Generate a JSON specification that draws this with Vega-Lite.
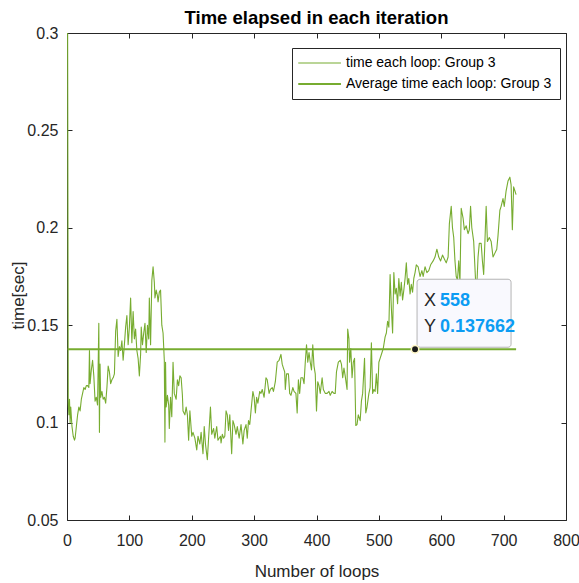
{
  "$schema": "https://vega.github.io/schema/vega-lite/v6.json",
  "width": 499,
  "height": 487,
  "autosize": {"type": "none"},
  "padding": {"left": 67, "top": 33, "right": 13, "bottom": 63},
  "background": "white",
  "config": {"font": "Liberation Sans", "view": {"stroke": "#262626", "strokeWidth": 1}},
  "title": {"text": "Time elapsed in each iteration", "fontSize": 18.5, "fontWeight": "bold", "color": "#000000", "anchor": "middle", "offset": 7, "dy": 9},
  "datasets": {
    "loops": [
      {"loop": 1, "time": 0.300}, {"loop": 2, "time": 0.110}, {"loop": 3, "time": 0.104}, {"loop": 4, "time": 0.112}, {"loop": 5, "time": 0.100},
      {"loop": 6, "time": 0.108}, {"loop": 8, "time": 0.098}, {"loop": 10, "time": 0.093}, {"loop": 12, "time": 0.091}, {"loop": 13, "time": 0.092},
      {"loop": 15, "time": 0.098}, {"loop": 17, "time": 0.104}, {"loop": 19, "time": 0.108}, {"loop": 21, "time": 0.106}, {"loop": 23, "time": 0.112},
      {"loop": 25, "time": 0.115}, {"loop": 27, "time": 0.118}, {"loop": 29, "time": 0.117}, {"loop": 31, "time": 0.119}, {"loop": 33, "time": 0.119},
      {"loop": 35, "time": 0.118}, {"loop": 36, "time": 0.137}, {"loop": 37, "time": 0.120}, {"loop": 39, "time": 0.127}, {"loop": 41, "time": 0.132},
      {"loop": 43, "time": 0.124}, {"loop": 45, "time": 0.111}, {"loop": 47, "time": 0.113}, {"loop": 49, "time": 0.109}, {"loop": 51, "time": 0.151},
      {"loop": 52, "time": 0.095}, {"loop": 53, "time": 0.130}, {"loop": 54, "time": 0.113}, {"loop": 56, "time": 0.116}, {"loop": 58, "time": 0.112},
      {"loop": 60, "time": 0.113}, {"loop": 62, "time": 0.110}, {"loop": 64, "time": 0.118}, {"loop": 66, "time": 0.129}, {"loop": 68, "time": 0.126},
      {"loop": 70, "time": 0.120}, {"loop": 72, "time": 0.122}, {"loop": 74, "time": 0.123}, {"loop": 76, "time": 0.125}, {"loop": 78, "time": 0.147},
      {"loop": 80, "time": 0.153}, {"loop": 82, "time": 0.134}, {"loop": 84, "time": 0.139}, {"loop": 86, "time": 0.137}, {"loop": 88, "time": 0.142},
      {"loop": 90, "time": 0.132}, {"loop": 92, "time": 0.140}, {"loop": 94, "time": 0.149}, {"loop": 96, "time": 0.155}, {"loop": 98, "time": 0.140},
      {"loop": 100, "time": 0.149}, {"loop": 102, "time": 0.164}, {"loop": 104, "time": 0.141}, {"loop": 106, "time": 0.157}, {"loop": 108, "time": 0.143},
      {"loop": 110, "time": 0.148}, {"loop": 112, "time": 0.137}, {"loop": 114, "time": 0.133}, {"loop": 116, "time": 0.124}, {"loop": 118, "time": 0.135},
      {"loop": 119, "time": 0.149}, {"loop": 121, "time": 0.140}, {"loop": 123, "time": 0.146}, {"loop": 125, "time": 0.151}, {"loop": 127, "time": 0.136},
      {"loop": 129, "time": 0.150}, {"loop": 131, "time": 0.143}, {"loop": 132, "time": 0.164}, {"loop": 134, "time": 0.140}, {"loop": 136, "time": 0.173},
      {"loop": 138, "time": 0.180}, {"loop": 140, "time": 0.172}, {"loop": 141, "time": 0.164}, {"loop": 143, "time": 0.168}, {"loop": 145, "time": 0.165},
      {"loop": 146, "time": 0.162}, {"loop": 148, "time": 0.167}, {"loop": 150, "time": 0.168}, {"loop": 152, "time": 0.150}, {"loop": 154, "time": 0.146},
      {"loop": 156, "time": 0.132}, {"loop": 157, "time": 0.090}, {"loop": 158, "time": 0.131}, {"loop": 159, "time": 0.108}, {"loop": 161, "time": 0.114},
      {"loop": 163, "time": 0.109}, {"loop": 164, "time": 0.097}, {"loop": 166, "time": 0.113}, {"loop": 168, "time": 0.103}, {"loop": 170, "time": 0.131},
      {"loop": 172, "time": 0.115}, {"loop": 175, "time": 0.112}, {"loop": 177, "time": 0.122}, {"loop": 179, "time": 0.119}, {"loop": 181, "time": 0.124},
      {"loop": 183, "time": 0.123}, {"loop": 185, "time": 0.114}, {"loop": 186, "time": 0.106}, {"loop": 189, "time": 0.104}, {"loop": 191, "time": 0.108},
      {"loop": 193, "time": 0.104}, {"loop": 195, "time": 0.091}, {"loop": 197, "time": 0.106}, {"loop": 200, "time": 0.093}, {"loop": 202, "time": 0.095},
      {"loop": 205, "time": 0.092}, {"loop": 208, "time": 0.086}, {"loop": 210, "time": 0.093}, {"loop": 213, "time": 0.089}, {"loop": 215, "time": 0.095},
      {"loop": 218, "time": 0.084}, {"loop": 220, "time": 0.098}, {"loop": 222, "time": 0.089}, {"loop": 225, "time": 0.081}, {"loop": 227, "time": 0.092},
      {"loop": 230, "time": 0.108}, {"loop": 232, "time": 0.094}, {"loop": 235, "time": 0.097}, {"loop": 237, "time": 0.092}, {"loop": 240, "time": 0.098},
      {"loop": 242, "time": 0.091}, {"loop": 244, "time": 0.092}, {"loop": 246, "time": 0.093}, {"loop": 247, "time": 0.0896}, {"loop": 249, "time": 0.094},
      {"loop": 251, "time": 0.092}, {"loop": 253, "time": 0.093}, {"loop": 255, "time": 0.106}, {"loop": 257, "time": 0.104}, {"loop": 259, "time": 0.096},
      {"loop": 261, "time": 0.104}, {"loop": 264, "time": 0.084}, {"loop": 266, "time": 0.101}, {"loop": 268, "time": 0.099}, {"loop": 271, "time": 0.094},
      {"loop": 273, "time": 0.098}, {"loop": 276, "time": 0.092}, {"loop": 279, "time": 0.099}, {"loop": 282, "time": 0.089}, {"loop": 284, "time": 0.096},
      {"loop": 287, "time": 0.099}, {"loop": 289, "time": 0.092}, {"loop": 291, "time": 0.101}, {"loop": 293, "time": 0.099}, {"loop": 295, "time": 0.106},
      {"loop": 298, "time": 0.116}, {"loop": 300, "time": 0.113}, {"loop": 302, "time": 0.105}, {"loop": 304, "time": 0.113}, {"loop": 306, "time": 0.110},
      {"loop": 309, "time": 0.116}, {"loop": 311, "time": 0.115}, {"loop": 313, "time": 0.117}, {"loop": 316, "time": 0.113}, {"loop": 319, "time": 0.123},
      {"loop": 321, "time": 0.122}, {"loop": 324, "time": 0.115}, {"loop": 326, "time": 0.117}, {"loop": 329, "time": 0.118}, {"loop": 331, "time": 0.116},
      {"loop": 334, "time": 0.121}, {"loop": 337, "time": 0.131}, {"loop": 340, "time": 0.132}, {"loop": 343, "time": 0.135}, {"loop": 345, "time": 0.130},
      {"loop": 347, "time": 0.128}, {"loop": 349, "time": 0.126}, {"loop": 350, "time": 0.117}, {"loop": 352, "time": 0.125}, {"loop": 355, "time": 0.125},
      {"loop": 357, "time": 0.115}, {"loop": 359, "time": 0.114}, {"loop": 362, "time": 0.118}, {"loop": 364, "time": 0.116}, {"loop": 367, "time": 0.115},
      {"loop": 369, "time": 0.105}, {"loop": 371, "time": 0.122}, {"loop": 373, "time": 0.115}, {"loop": 375, "time": 0.123}, {"loop": 378, "time": 0.123},
      {"loop": 380, "time": 0.120}, {"loop": 382, "time": 0.131}, {"loop": 384, "time": 0.140}, {"loop": 386, "time": 0.131}, {"loop": 388, "time": 0.136},
      {"loop": 390, "time": 0.131}, {"loop": 392, "time": 0.127}, {"loop": 394, "time": 0.140}, {"loop": 396, "time": 0.129}, {"loop": 398, "time": 0.125},
      {"loop": 400, "time": 0.106}, {"loop": 402, "time": 0.121}, {"loop": 404, "time": 0.119}, {"loop": 406, "time": 0.115}, {"loop": 409, "time": 0.123},
      {"loop": 411, "time": 0.117}, {"loop": 414, "time": 0.115}, {"loop": 417, "time": 0.115}, {"loop": 420, "time": 0.116}, {"loop": 422, "time": 0.114},
      {"loop": 425, "time": 0.116}, {"loop": 428, "time": 0.115}, {"loop": 430, "time": 0.115}, {"loop": 432, "time": 0.126}, {"loop": 435, "time": 0.131},
      {"loop": 438, "time": 0.132}, {"loop": 440, "time": 0.130}, {"loop": 442, "time": 0.123}, {"loop": 444, "time": 0.128}, {"loop": 446, "time": 0.124},
      {"loop": 449, "time": 0.117}, {"loop": 450, "time": 0.148}, {"loop": 452, "time": 0.143}, {"loop": 453, "time": 0.131}, {"loop": 455, "time": 0.138},
      {"loop": 457, "time": 0.123}, {"loop": 459, "time": 0.131}, {"loop": 461, "time": 0.133}, {"loop": 463, "time": 0.0985}, {"loop": 465, "time": 0.099},
      {"loop": 467, "time": 0.104}, {"loop": 470, "time": 0.101}, {"loop": 472, "time": 0.111}, {"loop": 474, "time": 0.115}, {"loop": 477, "time": 0.133},
      {"loop": 479, "time": 0.105}, {"loop": 481, "time": 0.108}, {"loop": 484, "time": 0.115}, {"loop": 486, "time": 0.118}, {"loop": 488, "time": 0.141},
      {"loop": 490, "time": 0.115}, {"loop": 492, "time": 0.117}, {"loop": 494, "time": 0.116}, {"loop": 496, "time": 0.125}, {"loop": 498, "time": 0.115},
      {"loop": 500, "time": 0.131}, {"loop": 502, "time": 0.133}, {"loop": 505, "time": 0.136}, {"loop": 507, "time": 0.138}, {"loop": 510, "time": 0.144},
      {"loop": 512, "time": 0.146}, {"loop": 514, "time": 0.152}, {"loop": 516, "time": 0.149}, {"loop": 518, "time": 0.176}, {"loop": 520, "time": 0.159},
      {"loop": 522, "time": 0.146}, {"loop": 524, "time": 0.177}, {"loop": 526, "time": 0.166}, {"loop": 528, "time": 0.169}, {"loop": 530, "time": 0.161},
      {"loop": 532, "time": 0.174}, {"loop": 534, "time": 0.165}, {"loop": 536, "time": 0.172}, {"loop": 538, "time": 0.163}, {"loop": 540, "time": 0.168},
      {"loop": 542, "time": 0.174}, {"loop": 544, "time": 0.182}, {"loop": 546, "time": 0.171}, {"loop": 548, "time": 0.174}, {"loop": 550, "time": 0.166},
      {"loop": 552, "time": 0.171}, {"loop": 554, "time": 0.167}, {"loop": 556, "time": 0.174}, {"loop": 558, "time": 0.177}, {"loop": 560, "time": 0.181},
      {"loop": 563, "time": 0.180}, {"loop": 566, "time": 0.175}, {"loop": 569, "time": 0.178}, {"loop": 571, "time": 0.175}, {"loop": 574, "time": 0.180},
      {"loop": 577, "time": 0.177}, {"loop": 580, "time": 0.178}, {"loop": 583, "time": 0.181}, {"loop": 587, "time": 0.183}, {"loop": 590, "time": 0.185},
      {"loop": 593, "time": 0.189}, {"loop": 596, "time": 0.185}, {"loop": 599, "time": 0.183}, {"loop": 602, "time": 0.186}, {"loop": 605, "time": 0.184},
      {"loop": 608, "time": 0.182}, {"loop": 611, "time": 0.185}, {"loop": 613, "time": 0.202}, {"loop": 616, "time": 0.211}, {"loop": 618, "time": 0.200},
      {"loop": 620, "time": 0.195}, {"loop": 622, "time": 0.183}, {"loop": 624, "time": 0.175}, {"loop": 626, "time": 0.173}, {"loop": 628, "time": 0.183},
      {"loop": 630, "time": 0.172}, {"loop": 632, "time": 0.210}, {"loop": 635, "time": 0.205}, {"loop": 637, "time": 0.199}, {"loop": 640, "time": 0.201},
      {"loop": 643, "time": 0.197}, {"loop": 645, "time": 0.199}, {"loop": 647, "time": 0.211}, {"loop": 649, "time": 0.200}, {"loop": 652, "time": 0.193},
      {"loop": 655, "time": 0.173}, {"loop": 657, "time": 0.170}, {"loop": 659, "time": 0.185}, {"loop": 661, "time": 0.192}, {"loop": 664, "time": 0.192},
      {"loop": 666, "time": 0.183}, {"loop": 668, "time": 0.176}, {"loop": 670, "time": 0.193}, {"loop": 672, "time": 0.211}, {"loop": 674, "time": 0.193},
      {"loop": 677, "time": 0.195}, {"loop": 680, "time": 0.193}, {"loop": 683, "time": 0.185}, {"loop": 686, "time": 0.187}, {"loop": 689, "time": 0.189},
      {"loop": 691, "time": 0.196}, {"loop": 694, "time": 0.209}, {"loop": 696, "time": 0.211}, {"loop": 699, "time": 0.215}, {"loop": 701, "time": 0.211},
      {"loop": 704, "time": 0.219}, {"loop": 707, "time": 0.224}, {"loop": 710, "time": 0.226}, {"loop": 712, "time": 0.222}, {"loop": 714, "time": 0.199},
      {"loop": 716, "time": 0.221}, {"loop": 718, "time": 0.219}, {"loop": 720, "time": 0.217}
    ],
    "average": [{"loop": 1, "time": 0.137662}, {"loop": 720, "time": 0.137662}],
    "datatip": [{"loop": 558, "time": 0.137662}]
  },
  "encoding": {
    "x": {
      "field": "loop", "type": "quantitative",
      "scale": {"domain": [0, 800], "nice": false, "zero": false},
      "axis": {
        "orient": "bottom", "values": [0, 100, 200, 300, 400, 500, 600, 700, 800], "format": "d",
        "ticks": false, "tickSize": 0, "domain": false,
        "grid": true, "gridColor": "#262626", "gridOpacity": 1, "gridWidth": 1, "gridDash": [5, 477, 5, 100],
        "labelFontSize": 16, "labelColor": "#262626", "labelPadding": 12, "labelFlush": false,
        "title": "Number of loops", "titleFontSize": 17, "titleFontWeight": "normal", "titleColor": "#262626", "titlePadding": 15
      }
    },
    "y": {
      "field": "time", "type": "quantitative",
      "scale": {"domain": [0.05, 0.3], "nice": false, "zero": false},
      "axis": {
        "orient": "left", "values": [0.05, 0.1, 0.15, 0.2, 0.25, 0.3], "format": "~g",
        "ticks": false, "tickSize": 0, "domain": false,
        "grid": true, "gridColor": "#262626", "gridOpacity": 1, "gridWidth": 1, "gridDash": [5, 489, 5, 100],
        "labelFontSize": 16, "labelColor": "#262626", "labelPadding": 9,
        "title": "time[sec]", "titleFontSize": 17, "titleFontWeight": "normal", "titleColor": "#262626",
        "titleX": -40, "titleY": 262
      }
    }
  },
  "layer": [
    {
      "data": {"name": "loops"},
      "mark": {"type": "line", "strokeJoin": "round"},
      "encoding": {
        "color": {
          "datum": "time each loop: Group 3", "type": "nominal",
          "scale": {"domain": ["time each loop: Group 3", "Average time each loop: Group 3"], "range": ["#77AC30", "#77AC30"]},
          "legend": {
            "title": null, "orient": "none", "legendX": 225, "legendY": 15,
            "strokeColor": "#262626", "fillColor": "white", "padding": 8,
            "symbolType": "M-2.5,0H9.7", "symbolSize": 49, "labelOffset": 32, "labelLimit": 400,
            "labelFontSize": 14, "labelColor": "#000000", "rowPadding": 7
          }
        },
        "strokeWidth": {
          "datum": "time each loop: Group 3", "type": "nominal",
          "scale": {"domain": ["time each loop: Group 3", "Average time each loop: Group 3"], "range": [1.1, 2.2]},
          "legend": {
            "title": null, "orient": "none", "legendX": 225, "legendY": 15,
            "strokeColor": "#262626", "fillColor": "white", "padding": 8,
            "symbolType": "M-2.5,0H9.7", "symbolSize": 49, "labelOffset": 32, "labelLimit": 400,
            "labelFontSize": 14, "labelColor": "#000000", "rowPadding": 7
          }
        }
      }
    },
    {
      "data": {"name": "average"},
      "mark": {"type": "line"},
      "encoding": {
        "color": {"datum": "Average time each loop: Group 3", "type": "nominal"},
        "strokeWidth": {"datum": "Average time each loop: Group 3", "type": "nominal"}
      }
    },
    {
      "data": {"name": "datatip"},
      "mark": {"type": "rect", "fill": "#f9f9fe", "stroke": "#b4b4b4", "strokeWidth": 1, "cornerRadius": 3,
               "xOffset": 2, "x2Offset": 96, "yOffset": -70, "y2Offset": -2},
      "encoding": {"x2": {"field": "loop"}, "y2": {"field": "time"}}
    },
    {
      "data": {"name": "datatip"},
      "mark": {"type": "text", "text": "X", "align": "left", "baseline": "middle", "dx": 9, "dy": -48, "fontSize": 18, "color": "#262626"}
    },
    {
      "data": {"name": "datatip"},
      "mark": {"type": "text", "text": "Y", "align": "left", "baseline": "middle", "dx": 9, "dy": -22, "fontSize": 18, "color": "#262626"}
    },
    {
      "data": {"name": "datatip"},
      "mark": {"type": "text", "align": "left", "baseline": "middle", "dx": 25, "dy": -48, "fontSize": 18, "fontWeight": "bold", "color": "#0b9cf3"},
      "encoding": {"text": {"field": "loop", "type": "quantitative", "format": "d"}}
    },
    {
      "data": {"name": "datatip"},
      "mark": {"type": "text", "align": "left", "baseline": "middle", "dx": 25, "dy": -22, "fontSize": 18, "fontWeight": "bold", "color": "#0b9cf3"},
      "encoding": {"text": {"field": "time", "type": "quantitative", "format": ".6f"}}
    },
    {
      "data": {"name": "datatip"},
      "mark": {"type": "point", "filled": true, "fill": "#1a1a1a", "stroke": "#fff7c8", "strokeWidth": 1.5, "size": 55, "opacity": 1}
    }
  ]
}
